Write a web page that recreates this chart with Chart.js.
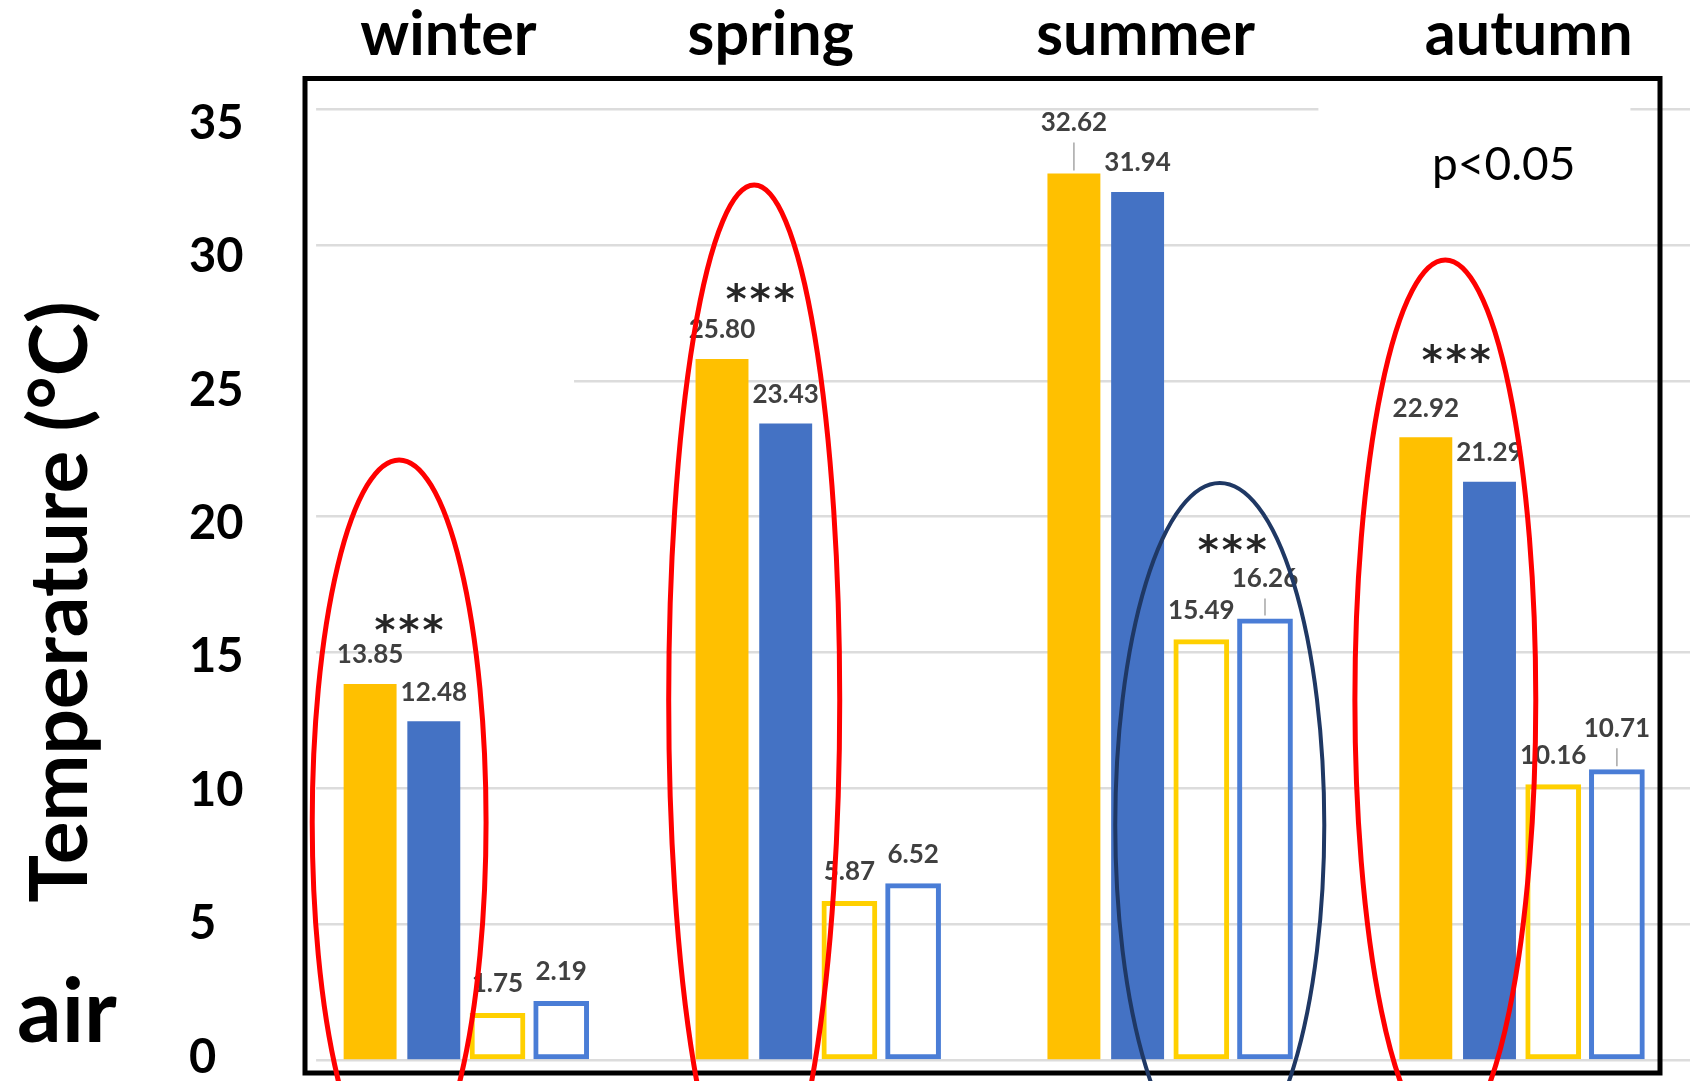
<!DOCTYPE html>
<html>
<head>
<meta charset="utf-8">
<title>Air temperature by season</title>
<script src="https://cdn.jsdelivr.net/npm/chart.js@4/dist/chart.umd.min.js"></script>
<style>
  html, body { margin: 0; padding: 0; background: #fff; overflow: hidden; }
  #wrap { width: 1690px; height: 1081px; overflow: hidden; }
  canvas { display: block; }
</style>
</head>
<body>
<!-- the plot runs a few pixels past the right edge, so the canvas is a bit wider than the frame -->
<div id="wrap"><canvas id="seasonChart" width="1698" height="1081"></canvas></div>
<script>
const seasons = ['winter', 'spring', 'summer', 'autumn'];
const solidYellow = [13.85, 25.80, 32.62, 22.92];
const solidBlue = [12.48, 23.43, 31.94, 21.29];
const openYellow = [1.75, 5.87, 15.49, 10.16];
const openBlue = [2.19, 6.52, 16.26, 10.71];
const yTicks = [0, 5, 10, 15, 20, 25, 30, 35];

// season headings are hand placed, nudged off the group centre (category units)
const seasonShift = [-0.049, -0.133, -0.068, 0.021];

// rings around the significant pairs: x / rx in category units, top / mid in °C
const rings = [
  { x: -0.189, rx: 0.247, top: 22.09, mid: 8.77, color: '#FF0000', width: 5 },
  { x: 0.820, rx: 0.243, top: 32.20, mid: 13.26, color: '#FF0000', width: 5 },
  { x: 2.143, rx: 0.297, top: 21.24, mid: 8.66, color: '#1F3864', width: 4 },
  { x: 2.784, rx: 0.257, top: 29.44, mid: 13.26, color: '#FF0000', width: 5 }
];
// *** markers, same units
const stars = [
  { x: -0.161, y: 16.09 },
  { x: 0.837, y: 28.27 },
  { x: 2.178, y: 19.03 },
  { x: 2.815, y: 26.04 }
];
// value labels that sit higher with a leader line (dataset, index, lift in px)
const leaders = [
  { ds: 0, i: 2, lift: 51 },
  { ds: 3, i: 2, lift: 40 },
  { ds: 3, i: 3, lift: 41 }
];
// white patches over the grid (category / °C units)
const gridMasks = [
  { x0: -0.5, x1: -0.425, y0: -1, y1: 37 },
  { x0: -0.5, x1: 0.308, y0: 24.6, y1: 25.4 },
  { x0: 2.429, x1: 3.31, y0: 34.6, y1: 35.4 }
];

// no extra room around the first/last tick label of a vertical axis
function fixWidth(w) {
  return function(scale) {
    scale.width = w;
    scale.paddingTop = 0;
    scale.paddingBottom = 0;
  };
}

const overlay = {
  id: 'overlay',
  beforeDatasetsDraw(chart) {
    const { ctx, scales: { x, y } } = chart;
    ctx.save();
    ctx.fillStyle = '#fff';
    gridMasks.forEach(m => {
      const l = x.getPixelForValue(m.x0), r = x.getPixelForValue(m.x1);
      const t = y.getPixelForValue(m.y1), b = y.getPixelForValue(m.y0);
      ctx.fillRect(l - 2, t, r - l + 2, b - t);
    });
    ctx.restore();
    // the bars and their labels are a little soft
    ctx.save();
    ctx.filter = 'blur(0.7px)';
  },
  afterDatasetsDraw(chart) {
    const ctx = chart.ctx;
    ctx.font = 'bold 26px Lato';
    ctx.fillStyle = '#404040';
    ctx.textAlign = 'center';
    ctx.textBaseline = 'middle';
    chart.data.datasets.forEach((ds, di) => {
      chart.getDatasetMeta(di).data.forEach((bar, i) => {
        const lead = leaders.find(l => l.ds === di && l.i === i);
        const cy = bar.y - (lead ? lead.lift : 29);
        ctx.fillText(ds.data[i].toFixed(2), bar.x, cy);
        if (lead) {
          ctx.strokeStyle = '#A6A6A6';
          ctx.lineWidth = 1.5;
          ctx.beginPath();
          ctx.moveTo(bar.x, cy + 20);
          ctx.lineTo(bar.x, bar.y - 3);
          ctx.stroke();
        }
      });
    });
    ctx.restore();
  },
  afterDraw(chart) {
    const { ctx, scales: { x, y } } = chart;
    ctx.save();

    // frame
    ctx.strokeStyle = '#000';
    ctx.lineWidth = 5;
    ctx.strokeRect(305, 78.5, 1355, 994.5);

    // season headings above the frame
    ctx.fillStyle = '#000';
    ctx.font = 'bold 61px Lato';
    ctx.textAlign = 'center';
    ctx.textBaseline = 'middle';
    seasons.forEach((s, i) => {
      ctx.fillText(s, x.getPixelForValue(i + seasonShift[i]), x.bottom - 46.5);
    });

    // rings
    rings.forEach(r => {
      const cx = x.getPixelForValue(r.x);
      const rx = x.getPixelForValue(r.x + r.rx) - cx;
      const top = y.getPixelForValue(r.top);
      const cy = y.getPixelForValue(r.mid);
      ctx.beginPath();
      ctx.ellipse(cx, cy, rx, cy - top, 0, 0, Math.PI * 2);
      ctx.strokeStyle = r.color;
      ctx.lineWidth = r.width;
      ctx.stroke();
    });

    // stars
    ctx.fillStyle = '#262626';
    ctx.font = 'bold 40px "DejaVu Sans"';
    ctx.textAlign = 'center';
    ctx.textBaseline = 'alphabetic';
    const m = ctx.measureText('*');
    const shift = (m.actualBoundingBoxAscent - m.actualBoundingBoxDescent) / 2;
    stars.forEach(s => {
      const cx = x.getPixelForValue(s.x);
      const cy = y.getPixelForValue(s.y);
      [-24, 0, 24].forEach(dx => ctx.fillText('*', cx + dx, cy + shift));
    });

    // axis title and panel texts
    ctx.fillStyle = '#000';
    ctx.save();
    ctx.translate(87, 602);
    ctx.rotate(-Math.PI / 2);
    ctx.font = 'bold 80px Lato';
    ctx.textAlign = 'center';
    ctx.fillText('Temperature (°C)', 0, 0);
    ctx.restore();

    ctx.textAlign = 'left';
    ctx.font = 'bold 88px Lato';
    ctx.fillText('air', 17, 1042);
    ctx.font = '46px Lato';
    ctx.fillText('p<0.05', 1432, 180);

    ctx.restore();
  }
};

function drawChart() {
  const ctx = document.getElementById('seasonChart').getContext('2d');
  new Chart(ctx, {
    type: 'bar',
    data: {
      labels: seasons,
      datasets: [
        { label: 'solid yellow', data: solidYellow, backgroundColor: '#FFC000', barPercentage: 0.831 },
        { label: 'solid blue', data: solidBlue, backgroundColor: '#4472C4', barPercentage: 0.831 },
        { label: 'open yellow', data: openYellow, backgroundColor: 'rgba(255,255,255,0)',
          borderColor: '#FFD000', borderWidth: 5, borderSkipped: false, barPercentage: 0.875 },
        { label: 'open blue', data: openBlue, backgroundColor: 'rgba(255,255,255,0)',
          borderColor: '#4A7DD6', borderWidth: 5, borderSkipped: false, barPercentage: 0.875 }
      ]
    },
    options: {
      responsive: false,
      animation: false,
      devicePixelRatio: 1,
      categoryPercentage: 0.724,
      layout: { padding: { left: 189, right: 0.7, top: 0, bottom: 20.5 } },
      plugins: {
        legend: { display: false },
        tooltip: { enabled: false }
      },
      scales: {
        x: {
          position: 'top',
          offset: true,
          grid: { display: false },
          border: { display: false },
          ticks: { display: false },
          afterFit(scale) { scale.height = 81.7; }
        },
        // value scale: bars and grid
        y: {
          min: 0,
          max: 36,
          afterBuildTicks(scale) { scale.ticks = yTicks.map(v => ({ value: v })); },
          grid: { color: '#DCDCDC', lineWidth: 2.5, drawTicks: false },
          border: { display: false },
          ticks: { display: false },
          afterFit: fixWidth(0)
        },
        // tick labels, set a little tighter than the grid
        yLabels: {
          position: 'left',
          min: -0.113,
          max: 36.569,
          afterBuildTicks(scale) { scale.ticks = yTicks.map(v => ({ value: v })); },
          grid: { display: false },
          border: { display: false },
          ticks: {
            color: '#000',
            font: { family: 'Lato', weight: 'bold', size: 47 },
            crossAlign: 'far'
          },
          afterFit: fixWidth(100.7)
        }
      }
    },
    plugins: [overlay]
  });
}

Promise.all([
  document.fonts.load('bold 20px Lato'),
  document.fonts.load('20px Lato')
]).then(drawChart, drawChart);
</script>
</body>
</html>
